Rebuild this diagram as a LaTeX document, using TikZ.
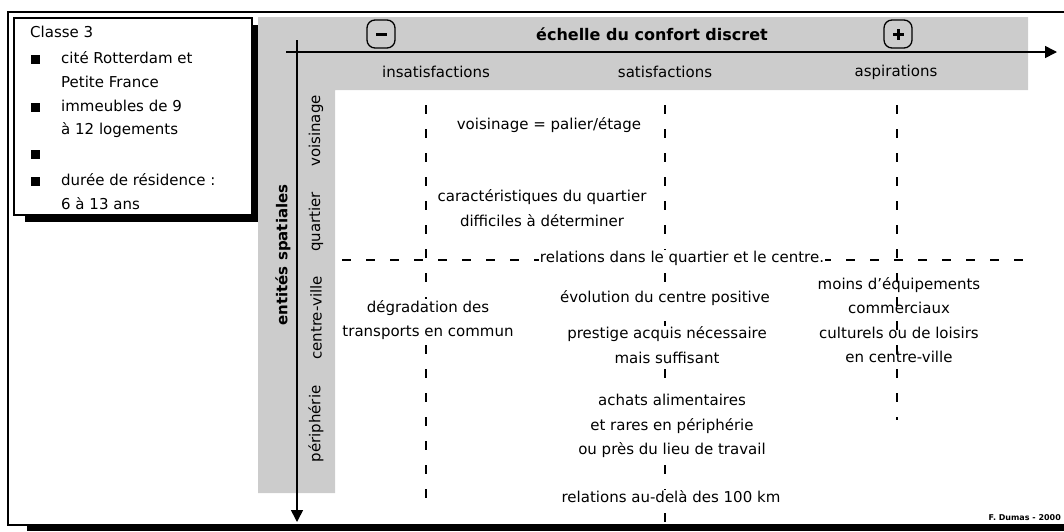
\documentclass[tikz,border=0pt]{standalone}
\usepackage{fontspec}
\setmainfont{DejaVu Sans}
\usetikzlibrary{arrows.meta}
\definecolor{band}{HTML}{CCCCCC}
\tikzset{
  txt/.style={font=\fontsize{15}{24.5}\selectfont, align=center, inner sep=1pt},
  wtxt/.style={txt, fill=white},
  ltxt/.style={font=\fontsize{15}{24.5}\selectfont, anchor=west, inner sep=0pt},
  vlab/.style={font=\fontsize{15}{18}\selectfont, rotate=90, inner sep=0pt},
  dline/.style={dash pattern=on 9pt off 15pt, line width=1.3pt},
  axis/.style={line width=1.6pt, -{Triangle[length=12pt,width=12pt]}},
  sign/.style={draw, line width=1.3pt, rounded corners=8pt, minimum width=28pt, minimum height=28pt, inner sep=0pt},
  bul/.style={fill=black, minimum size=9pt, inner sep=0pt}
}
\begin{document}
\begin{tikzpicture}[x=1pt,y=-1pt]
\useasboundingbox (0,0) rectangle (1064,531);
\clip (0,0) rectangle (1064,531);
% outer frame
\fill (27,524) rectangle (1070,531);
\draw[line width=1.5pt] (1070,12) -- (8,12) -- (8,525) -- (1070,525);
% grey bands
\fill[band] (258,17) -- (1028,17) -- (1028,90) -- (335,90) -- (335,493) -- (258,493) -- cycle;
% legend box
\fill (25,214) rectangle (258,222);
\fill (251,25) rectangle (258,222);
\draw[line width=1.5pt, fill=white] (14,18) rectangle (252,215);
\node[ltxt] (cl) at (30,32) {Classe 3};
\node[bul] (b1) at (35,59) {};
\node[bul] (b2) at (35,107) {};
\node[bul] (b3) at (35,154) {};
\node[bul] (b4) at (35,181) {};
\node[ltxt] (l1) at (61,58) {cité Rotterdam et};
\node[ltxt] (l2) at (61,82) {Petite France};
\node[ltxt] (l3) at (61,106) {immeubles de 9};
\node[ltxt] (l4) at (61,130) {à 12 logements};
\node[ltxt] (l5) at (61,180) {durée de résidence :};
\node[ltxt] (l6) at (61,204) {6 à 13 ans};
% header
\node[sign] (minus) at (381,34) {};
\fill (375.5,32.5) rectangle (386.5,35.5);
\node[sign] (plus) at (898,34) {};
\fill (892.5,32.5) rectangle (903.5,35.5);
\fill (896.5,28.5) rectangle (899.5,39.5);
\node[font=\fontsize{16}{18}\selectfont\bfseries, inner sep=0pt] (title) at (652,34) {échelle du confort discret};
\node[txt] (h1) at (436,72) {insatisfactions};
\node[txt] (h2) at (665,72) {satisfactions};
\node[txt] (h3) at (896,72) {aspirations};
% axes
\coordinate (xs) at (286,52);
\coordinate (xe) at (1057,52);
\coordinate (ys) at (297,40);
\coordinate (ye) at (297,522);
\draw[axis] (xs) -- (xe);
\draw[axis] (ys) -- (ye);
% vertical labels
\node[vlab, font=\fontsize{15}{18}\selectfont\bfseries] (ent) at (283,255) {entités spatiales};
\node[vlab] (v1) at (316,131) {voisinage};
\node[vlab] (v2) at (316,222) {quartier};
\node[vlab] (v3) at (316,318) {centre-ville};
\node[vlab] (v4) at (316,424) {périphérie};
% dashed grid
\coordinate (d1a) at (426,105); \coordinate (d1b) at (426,502);
\coordinate (d2a) at (665,105); \coordinate (d2b) at (665,527);
\coordinate (d3a) at (897,105); \coordinate (d3b) at (897,420);
\coordinate (hda) at (342,260); \coordinate (hdb) at (1032,260);
\draw[dline] (d1a) -- (d1b);
\draw[dline] (d2a) -- (d2b);
\draw[dline] (d3a) -- (d3b);
\draw[dline] (hda) -- (hdb);
% contents
\node[wtxt] (t1) at (549,125) {voisinage = palier/étage};
\node[wtxt] (t2) at (542,208) {caractéristiques du quartier\\difficiles à déterminer};
\node[wtxt] (t3) at (682,258) {relations dans le quartier et le centre.};
\node[wtxt] (t4) at (428,320) {dégradation des\\transports en commun};
\node[wtxt] (t5) at (665,298) {évolution du centre positive};
\node[wtxt] (t6) at (667,345) {prestige acquis nécessaire\\mais suffisant};
\node[wtxt] (t7) at (672,426) {achats alimentaires\\et rares en périphérie\\ou près du lieu de travail};
\node[wtxt] (t8) at (671,497) {relations au-delà des 100 km};
\node[txt] (t9) at (899,320) {moins d'équipements\\commerciaux\\culturels ou de loisirs\\en centre-ville};
\node[font=\fontsize{8}{9}\selectfont\bfseries, anchor=east, inner sep=0pt] (sig) at (1061,518) {F. Dumas - 2000};
\end{tikzpicture}
\end{document}
